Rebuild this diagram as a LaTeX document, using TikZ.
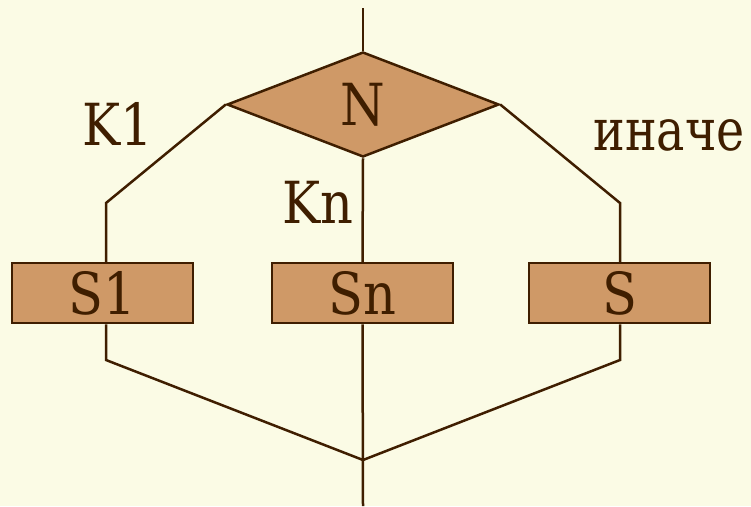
\documentclass[tikz,border=0pt]{standalone}
\usepackage{fontspec}
\usepackage{graphicx}
\setmainfont{DejaVu Serif}
\usetikzlibrary{shapes.geometric}
\definecolor{bg}{HTML}{FBFBE5}
\definecolor{boxfill}{HTML}{CF9967}
\definecolor{ink}{HTML}{3F1E00}
\newcommand{\narrow}[1]{\scalebox{0.88}[1]{#1}}
\begin{document}
\begin{tikzpicture}[x=1pt,y=-1pt,
  line/.style={draw=ink,line width=2.5pt},
  bigtext/.style={text=ink,font=\fontsize{58}{58}\selectfont},
  blockbox/.style={bigtext,draw=ink,fill=boxfill,line width=2.5pt,minimum width=181pt,minimum height=60pt,inner sep=0pt},
  cond/.style={bigtext,diamond,draw=ink,fill=boxfill,line width=2.5pt,minimum width=272pt,minimum height=105pt,inner sep=0pt,aspect=2.6},
  lbl/.style={bigtext,inner sep=0pt,anchor=base}]
\fill[bg] (0,0) rectangle (751,506);
\useasboundingbox (0,0) rectangle (751,506);
\node[cond] (n) at (363,104.5) {\narrow{N}};
\node[blockbox] (s1) at (102.5,293) {\narrow{S1}};
\node[blockbox] (sn) at (362.5,293) {\narrow{Sn}};
\node[blockbox] (s) at (619.5,293) {\narrow{S}};
\coordinate (top) at (363,8);
\coordinate (bot) at (363,506);
\coordinate (lb) at (106,203);
\coordinate (rb) at (620,203);
\coordinate (ll) at (106,360);
\coordinate (rl) at (620,360);
\coordinate (join) at (363,460);
\draw[line] (top) -- (n.north);
\draw[line] (n.west) -- (lb) -- (lb |- s1.north);
\draw[line] (n.east) -- (rb) -- (rb |- s.north);
\draw[line] (n.south) -- (sn.north);
\draw[line] (ll |- s1.south) -- (ll) -- (join);
\draw[line] (rl |- s.south) -- (rl) -- (join);
\draw[line] (sn.south) -- (bot);
\node[lbl] (k1) at (117.5,145) {\narrow{K1}};
\node[lbl] (kn) at (318,223) {\narrow{Kn}};
\node[lbl] (else) at (669,150) {\scalebox{0.82}[1]{иначе}};
\end{tikzpicture}
\end{document}
